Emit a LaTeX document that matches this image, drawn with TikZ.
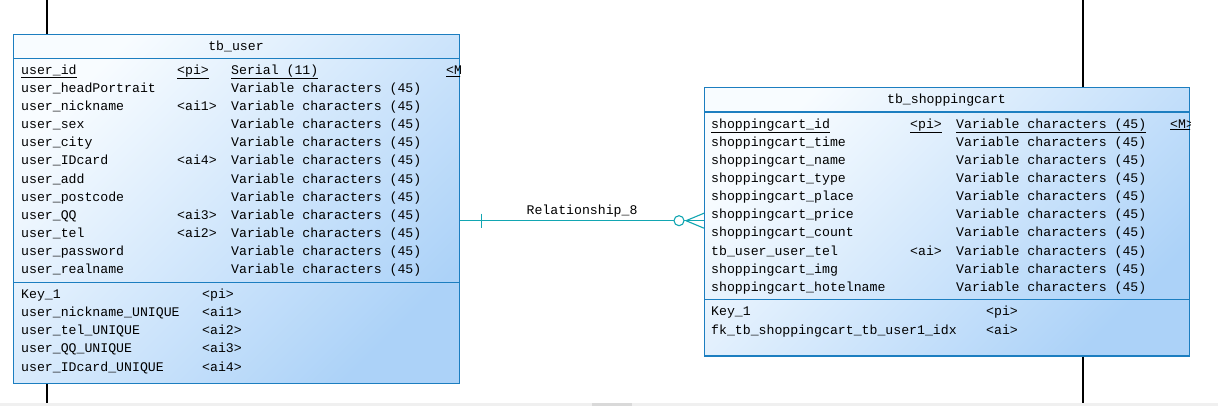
\documentclass[tikz,border=0pt]{standalone}
\usepackage{fontspec}
\newfontfamily\erfont{Liberation Mono}
\usepackage{xcolor}
\usetikzlibrary{positioning,calc}

\definecolor{tblBorder}{RGB}{28,126,192}
\definecolor{tblLight}{RGB}{248,252,255}
\definecolor{tblDark}{RGB}{172,210,248}
\definecolor{relLine}{RGB}{18,166,178}
\definecolor{barGray}{RGB}{240,240,240}

\begin{document}
\begin{tikzpicture}[x=1pt,y=-1pt,
tbl/.style={draw=tblBorder, line width=1.1pt, top color=tblLight, bottom color=tblDark, shading angle=45, anchor=north west, inner sep=0pt},
cell/.style={anchor=base west, inner sep=0pt, font={\erfont\fontsize{13.2}{15}\selectfont}},
ttl/.style={anchor=base, inner sep=0pt, font={\erfont\fontsize{13.2}{15}\selectfont}},
sep/.style={draw=tblBorder, line width=1.1pt},
rel/.style={draw=relLine, line width=1.1pt},
wire/.style={draw=black, line width=1.4pt}
]
\fill[white] (0,0) rectangle (1218,406);
\fill[barGray] (0,403) rectangle (1218,406);
\fill[black!15] (592,403) rectangle (632,406);
\useasboundingbox (0,0) rectangle (1218,406);

% tables
\node[tbl, minimum width=446pt, minimum height=349pt] (userT) at (13,34) {};
\node[tbl, minimum width=485pt, minimum height=268pt] (cartT) at (704,87.4) {};

\draw[sep] (13,58.6) -- (459,58.6);
\draw[sep] (13,282.5) -- (459,282.5);
\draw[sep] (704,112) -- (1189,112);
\draw[sep] (704,299.5) -- (1189,299.5);

% tb_user
\node[ttl] (userTitle) at (236,50.5) {tb\_user};
\begin{scope}
\clip (userT.north west) rectangle (userT.south east);
\node[cell] (userId) at (21,74.5) {\underline{user\_id}};
\node[cell] at (177,74.5) {\underline{<pi>}};
\node[cell] at (231,74.5) {\underline{Serial (11)}};
\node[cell] at (446,74.5) {\underline{<M>}};
\end{scope}
\foreach \nm/\ky [count=\i] in {user\_headPortrait/, user\_nickname/<ai1>, user\_sex/, user\_city/, user\_IDcard/<ai4>, user\_add/, user\_postcode/, user\_QQ/<ai3>, user\_tel/<ai2>, user\_password/, user\_realname/}{
  \node[cell] at (21,{74.5+18.1*\i}) {\nm};
  \node[cell] at (177,{74.5+18.1*\i}) {\ky};
  \node[cell] at (231,{74.5+18.1*\i}) {Variable characters (45)};
}
\foreach \nm/\ky [count=\i from 0] in {Key\_1/<pi>, user\_nickname\_UNIQUE/<ai1>, user\_tel\_UNIQUE/<ai2>, user\_QQ\_UNIQUE/<ai3>, user\_IDcard\_UNIQUE/<ai4>}{
  \node[cell] at (21,{298.5+18.15*\i}) {\nm};
  \node[cell] at (202,{298.5+18.15*\i}) {\ky};
}

% tb_shoppingcart
\node[ttl] (cartTitle) at (946.5,104) {tb\_shoppingcart};
\begin{scope}
\clip (cartT.north west) rectangle (cartT.south east);
\node[cell] (cartId) at (711,128.3) {\underline{shoppingcart\_id}};
\node[cell] at (910,128.3) {\underline{<pi>}};
\node[cell] at (956,128.3) {\underline{Variable characters (45)}};
\node[cell] at (1170,128.3) {\underline{<M>}};
\end{scope}
\foreach \nm/\ky [count=\i] in {shoppingcart\_time/, shoppingcart\_name/, shoppingcart\_type/, shoppingcart\_place/, shoppingcart\_price/, shoppingcart\_count/, tb\_user\_user\_tel/<ai>, shoppingcart\_img/, shoppingcart\_hotelname/}{
  \node[cell] at (711,{128.3+18.1*\i}) {\nm};
  \node[cell] at (910,{128.3+18.1*\i}) {\ky};
  \node[cell] at (956,{128.3+18.1*\i}) {Variable characters (45)};
}
\foreach \nm/\ky [count=\i from 0] in {Key\_1/<pi>, fk\_tb\_shoppingcart\_tb\_user1\_idx/<ai>}{
  \node[cell] at (711,{315.5+18.6*\i}) {\nm};
  \node[cell] at (986,{315.5+18.6*\i}) {\ky};
}

% links to tables outside the view
\coordinate (userUp) at (47,0);
\coordinate (userDown) at (47,402.5);
\coordinate (cartUp) at (1083,0);
\coordinate (cartDown) at (1083,402.5);
\draw[wire] (userUp) -- (userUp |- userT.north);
\draw[wire] (userT.south -| userDown) -- (userDown);
\draw[wire] (cartUp) -- (cartUp |- cartT.north);
\draw[wire] (cartT.south -| cartDown) -- (cartDown);

% Relationship_8
\coordinate (relY) at (0,220.7);
\coordinate (relA) at (userT.east |- relY);
\coordinate (relB) at (cartT.west |- relY);
\path (relA) -- node[ttl, above=3pt] (relLabel) {Relationship\_8} (relB);
\draw[rel] (relA) -- ($(relB)+(-30,0)$);
\draw[rel] ($(relA)+(21,-7)$) -- ($(relA)+(21,7)$);
\draw[rel, fill=white] ($(relB)+(-25,0)$) circle (5pt);
\draw[rel] ($(relB)+(-20,0)$) -- (relB);
\draw[rel] ($(relB)+(-18,0)$) -- ($(relB)+(0,-7.5)$);
\draw[rel] ($(relB)+(-18,0)$) -- ($(relB)+(0,7.5)$);
\end{tikzpicture}
\end{document}
